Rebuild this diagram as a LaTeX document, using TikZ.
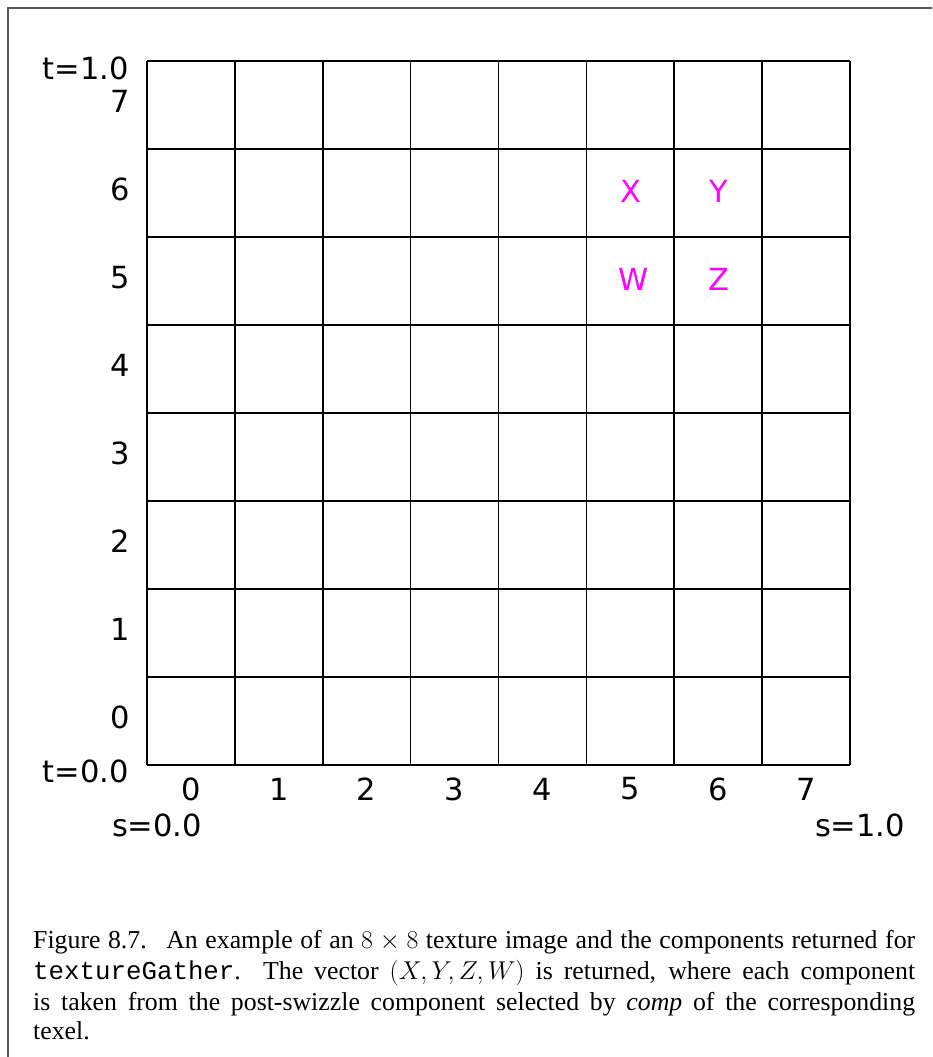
\RequirePackage{fix-cm}
\documentclass[tikz,border=0pt]{standalone}
\usepackage{fontspec}
\setmainfont{Liberation Serif}
\setmonofont{Liberation Mono}
\newfontfamily\labfont{DejaVu Sans}
\definecolor{compcol}{RGB}{255,0,255}
\begin{document}
\begin{tikzpicture}[x=1pt,y=-1pt,
  lab/.style={font=\labfont\fontsize{30.5}{36}\selectfont, inner sep=0pt},
  comp/.style={lab, text=compcol},
  gridline/.style={line width=1.6pt, black},
  capline/.style={inner sep=0pt, anchor=base west, font=\fontsize{25.8}{30}\selectfont}]
\useasboundingbox (0,0) rectangle (932,1057);
\fill[white] (0,0) rectangle (932,1057);
% frame
\draw[line width=1.4pt, black!65] (8,1057) -- (8,8) -- (932,8);
% grid
\foreach \i in {0,...,8} {
  \draw[gridline] ({147+\i*87.875},61) -- ({147+\i*87.875},765);
  \draw[gridline] (147,{61+\i*88}) -- (850,{61+\i*88});
}
% row labels
\foreach \r in {0,...,7} {
  \node[lab, anchor=east] (r\r) at (130,{765-(\r+0.5)*88-3.5}) {\r};
}
% column labels
\foreach \c in {0,...,7} {
  \node[lab] (c\c) at ({147+(\c+0.5)*87.875},789) {\c};
}
\node[lab, anchor=east] (t1) at (129,68) {t=1.0};
\node[lab, anchor=east] (t0) at (129,771) {t=0.0};
\node[lab] (s0) at (157,825) {s=0.0};
\node[lab] (s1) at (860,825) {s=1.0};
% components
\node[comp] (X) at (631,191) {X};
\node[comp] (Y) at (719,191) {Y};
\node[comp] (W) at (634,279) {W};
\node[comp] (Z) at (719,279) {Z};
% caption
\node[capline] (cap1) at (33,948) {\makebox[882pt][s]{Figure 8.7.\hspace{0.3em} An example of an $8\times8$ texture image and the components returned for}};
\node[capline] (cap2) at (33,979) {\makebox[882pt][s]{\texttt{textureGather}. The vector $(X,Y,Z,W)$ is returned, where each component}};
\node[capline] (cap3) at (33,1010) {\makebox[882pt][s]{is taken from the post-swizzle component selected by \textit{comp} of the corresponding}};
\node[capline] (cap4) at (33,1039) {texel.};
\end{tikzpicture}
\end{document}
